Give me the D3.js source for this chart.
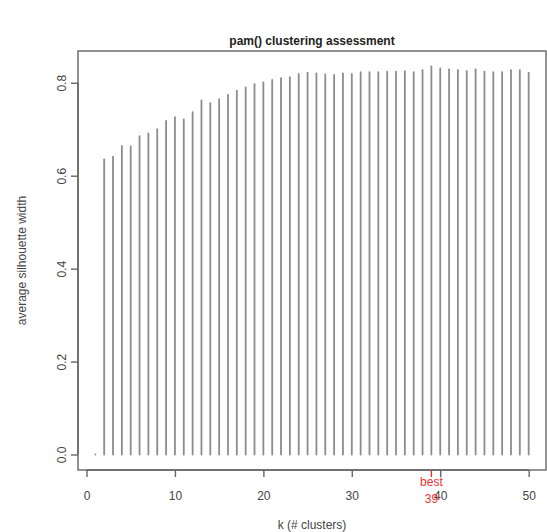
<!DOCTYPE html>
<html>
<head>
<meta charset="utf-8">
<script src="https://cdn.jsdelivr.net/npm/d3@7"></script>
<style>
  html, body { margin: 0; padding: 0; background: #fff; }
  svg { display: block; font-family: "Liberation Sans", Arial, Helvetica, sans-serif; }
</style>
</head>
<body>
<svg id="chart" width="547" height="532"></svg>
<script>
// Average silhouette width of pam() for k = 1..50 clusters
const kValues = d3.range(1, 51);
const avgSilWidth = [
  0.000, 0.635, 0.641, 0.664, 0.663, 0.685, 0.691, 0.700, 0.718, 0.726,
  0.721, 0.737, 0.762, 0.756, 0.765, 0.774, 0.783, 0.790, 0.797, 0.801,
  0.806, 0.810, 0.812, 0.819, 0.822, 0.820, 0.818, 0.817, 0.820, 0.819,
  0.823, 0.823, 0.823, 0.824, 0.824, 0.825, 0.823, 0.827, 0.835, 0.831,
  0.829, 0.827, 0.825, 0.829, 0.824, 0.823, 0.823, 0.827, 0.827, 0.822
];
const xTickValues = [0, 10, 20, 30, 40, 50];
const yTickValues = [0.0, 0.2, 0.4, 0.6, 0.8];
const titleText = "pam() clustering assessment";
const xLabel = "k  (# clusters)";
const yLabel = "average silhouette width";

const bestIndex = d3.maxIndex(avgSilWidth);
const kBest = kValues[bestIndex];

const svg = d3.select("#chart");
const plot = { left: 78, right: 546, top: 51, bottom: 470 };

// R-style 4% axis extension
const xr = [d3.min(kValues), d3.max(kValues)];
const xPad = (xr[1] - xr[0]) * 0.04;
const x = d3.scaleLinear().domain([xr[0] - xPad, xr[1] + xPad]).range([plot.left, plot.right]);
const yr = [d3.min(avgSilWidth), d3.max(avgSilWidth)];
const yPad = (yr[1] - yr[0]) * 0.04;
const y = d3.scaleLinear().domain([yr[0] - yPad, yr[1] + yPad]).range([plot.bottom, plot.top]);

const ink = "#666";
const textInk = "#444";
const red = "#f03030";

// vertical "h" lines
svg.append("g")
  .selectAll("line")
  .data(kValues)
  .join("line")
  .attr("x1", d => x(d)).attr("x2", d => x(d))
  .attr("y1", y(0))
  .attr("y2", (d, i) => y(avgSilWidth[i]))
  .attr("stroke", "#8c8c8c")
  .attr("stroke-width", 1.8)
  .attr("stroke-linecap", "round");

// plot box
svg.append("rect")
  .attr("x", plot.left).attr("y", plot.top)
  .attr("width", plot.right - plot.left)
  .attr("height", plot.bottom - plot.top)
  .attr("fill", "none")
  .attr("stroke", ink)
  .attr("stroke-width", 1.4);

// x axis
const xAxis = svg.append("g")
  .attr("transform", `translate(0,${plot.bottom})`)
  .call(d3.axisBottom(x).tickValues(xTickValues).tickFormat(d3.format("d"))
    .tickSize(7).tickPadding(14).tickSizeOuter(0));
xAxis.select(".domain").attr("d", `M${x(xTickValues[0])},0H${x(xTickValues[xTickValues.length - 1])}`)
  .attr("stroke", ink).attr("stroke-width", 1.4);
xAxis.selectAll(".tick line").attr("stroke", ink).attr("stroke-width", 1.4);
xAxis.selectAll(".tick text").attr("fill", textInk).attr("font-size", 12);

// y axis with rotated labels
const yAxis = svg.append("g")
  .attr("transform", `translate(${plot.left},0)`)
  .call(d3.axisLeft(y).tickValues(yTickValues).tickFormat(d3.format(".1f"))
    .tickSize(7).tickSizeOuter(0));
yAxis.select(".domain").attr("d", `M0,${y(yTickValues[0])}V${y(yTickValues[yTickValues.length - 1])}`)
  .attr("stroke", ink).attr("stroke-width", 1.4);
yAxis.selectAll(".tick line").attr("stroke", ink).attr("stroke-width", 1.4);
yAxis.selectAll(".tick text")
  .attr("fill", textInk).attr("font-size", 12)
  .attr("x", null)
  .attr("text-anchor", "middle")
  .attr("transform", "translate(-16,0) rotate(-90)")
  .attr("dy", "0.35em");

// best k marker on the x axis: red tick with a two-line label
const bestG = svg.append("g").attr("transform", `translate(${x(kBest)},${plot.bottom})`);
bestG.append("line").attr("y1", 0).attr("y2", 7).attr("stroke", red).attr("stroke-width", 1.4);
bestG.append("text").attr("y", 16).attr("text-anchor", "middle")
  .attr("fill", red).attr("font-size", 12).text("best");
bestG.append("text").attr("y", 33).attr("text-anchor", "middle")
  .attr("fill", red).attr("font-size", 12).text(kBest);

// titles
const cx = (plot.left + plot.right) / 2;
svg.append("text").attr("x", cx).attr("y", 45).attr("text-anchor", "middle")
  .attr("font-weight", "bold").attr("font-size", 12).attr("fill", "#222").text(titleText);
svg.append("text").attr("x", cx).attr("y", 529).attr("text-anchor", "middle")
  .attr("font-size", 12).attr("fill", textInk).text(xLabel);
svg.append("text").attr("transform", `translate(26,${(plot.top + plot.bottom) / 2}) rotate(-90)`)
  .attr("text-anchor", "middle").attr("font-size", 12).attr("fill", textInk).text(yLabel);
</script>
</body>
</html>
